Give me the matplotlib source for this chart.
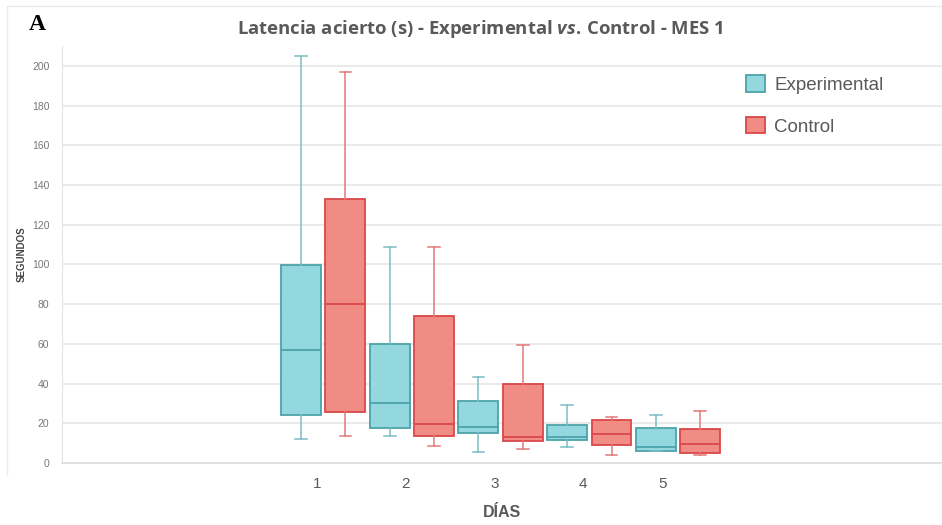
import matplotlib
matplotlib.use("Agg")
import matplotlib.pyplot as plt
from matplotlib.patches import Patch
from matplotlib.lines import Line2D

# datos (segundos)
dias = [1, 2, 3, 4, 5]

exp_lo = [12, 13.6, 5.5, 8.1, 6]
exp_q1 = [24.3, 17.8, 15.1, 11.4, 5.9]
exp_med = [57.1, 30.4, 18.3, 12.9, 8.2]
exp_q3 = [99.6, 60.1, 31.2, 19.3, 17.5]
exp_hi = [205, 108.8, 43.2, 29.4, 24]

ctl_lo = [13.8, 8.7, 6.9, 4, 4]
ctl_q1 = [25.8, 13.8, 11.1, 9.2, 5]
ctl_med = [80.3, 19.8, 12.9, 14.5, 9.4]
ctl_q3 = [132.8, 74, 39.8, 21.8, 17.1]
ctl_hi = [197, 108.8, 59.4, 23, 26.3]

grupos = ["Experimental", "Control"]

c_exp_fill = "#93D8DE"
c_exp_edge = "#4BA3A9"
c_exp_whis = "#7ABCC2"
c_ctl_fill = "#F08C84"
c_ctl_edge = "#D9474A"
c_ctl_whis = "#E47878"
c_text = "#595959"
c_grid = "#E6E6E6"

plt.rcParams["font.family"] = ["Liberation Sans", "DejaVu Sans"]
plt.rcParams["mathtext.fontset"] = "custom"
plt.rcParams["mathtext.it"] = "Open Sans:italic:bold"
plt.rcParams["mathtext.rm"] = "Open Sans:bold"


def stats(lo, q1, med, q3, hi):
    return [dict(whislo=a, q1=b, med=c, q3=d, whishi=e, fliers=[])
            for a, b, c, d, e in zip(lo, q1, med, q3, hi)]


fig = plt.figure(figsize=(9.42, 5.25), dpi=100)
ax = fig.add_axes([62 / 942, 62 / 525, 1 - 62 / 942, (463 - 46) / 525])

for st, off, fill, edge, whis in [
        (stats(exp_lo, exp_q1, exp_med, exp_q3, exp_hi), -0.25, c_exp_fill, c_exp_edge, c_exp_whis),
        (stats(ctl_lo, ctl_q1, ctl_med, ctl_q3, ctl_hi), 0.25, c_ctl_fill, c_ctl_edge, c_ctl_whis)]:
    ax.bxp(st, positions=[d + off for d in dias], widths=0.45,
           patch_artist=True, showfliers=False, manage_ticks=False,
           capwidths=0.13,
           boxprops=dict(facecolor=fill, edgecolor=edge, linewidth=1.3),
           medianprops=dict(color=edge, linewidth=1.3),
           whiskerprops=dict(color=whis, linewidth=1.1),
           capprops=dict(color=whis, linewidth=1.1),
           zorder=3)

ax.set_ylim(0, 210)
ax.set_xlim(-1.945, 7.976)
ax.set_yticks(range(0, 201, 20))
ax.set_xticks([d - 0.07 for d in dias[:4]] + [4.83])
ax.set_xticklabels([str(d) for d in dias])
ax.tick_params(axis="y", length=0, labelsize=7.5, labelcolor="#777777", pad=9)
ax.tick_params(axis="x", length=0, labelsize=11, labelcolor=c_text, pad=10)
ax.grid(axis="y", color=c_grid, linewidth=1.2, zorder=0)
ax.set_axisbelow(True)
for s in ["top", "right"]:
    ax.spines[s].set_visible(False)
ax.spines["left"].set_color("#E3E3E3")
ax.spines["bottom"].set_color("#DDDDDD")
ax.spines["bottom"].set_linewidth(1.2)

ax.set_ylabel("SEGUNDOS", fontsize=7, fontweight="bold", color="#444444", labelpad=4)
ax.set_xlabel("DÍAS", fontsize=11.5, fontweight="bold", color=c_text, labelpad=10)

fig.text(480 / 942, 1 - 29 / 525,
         r"Latencia acierto (s) - Experimental $\it{vs.}\,$Control - MES 1",
         family=["Open Sans", "DejaVu Sans"], fontweight="bold",
         fontsize=13.3, color=c_text, ha="center", va="center")
fig.text(37 / 942, 1 - 24 / 525, "A", family=["Liberation Serif"],
         fontweight="bold", fontsize=17, ha="center", va="center")

handles = [Patch(facecolor=c_exp_fill, edgecolor=c_exp_edge, linewidth=1.3),
           Patch(facecolor=c_ctl_fill, edgecolor=c_ctl_edge, linewidth=1.3)]
leg = ax.legend(handles, grupos, loc="upper left", bbox_to_anchor=(0.758, 0.97),
                frameon=False, fontsize=13.5, handlelength=1.0, handleheight=1.0,
                labelspacing=1.2, handletextpad=0.5)
for t in leg.get_texts():
    t.set_color(c_text)

# marco tenue de la imagen
fig.add_artist(Line2D([7 / 942, 7 / 942], [1 - 475 / 525, 1 - 6 / 525],
                      color="#EBEBEB", linewidth=1))
fig.add_artist(Line2D([7 / 942, 1], [1 - 6 / 525, 1 - 6 / 525],
                      color="#EBEBEB", linewidth=1))

fig.savefig("out.png", dpi=100)
